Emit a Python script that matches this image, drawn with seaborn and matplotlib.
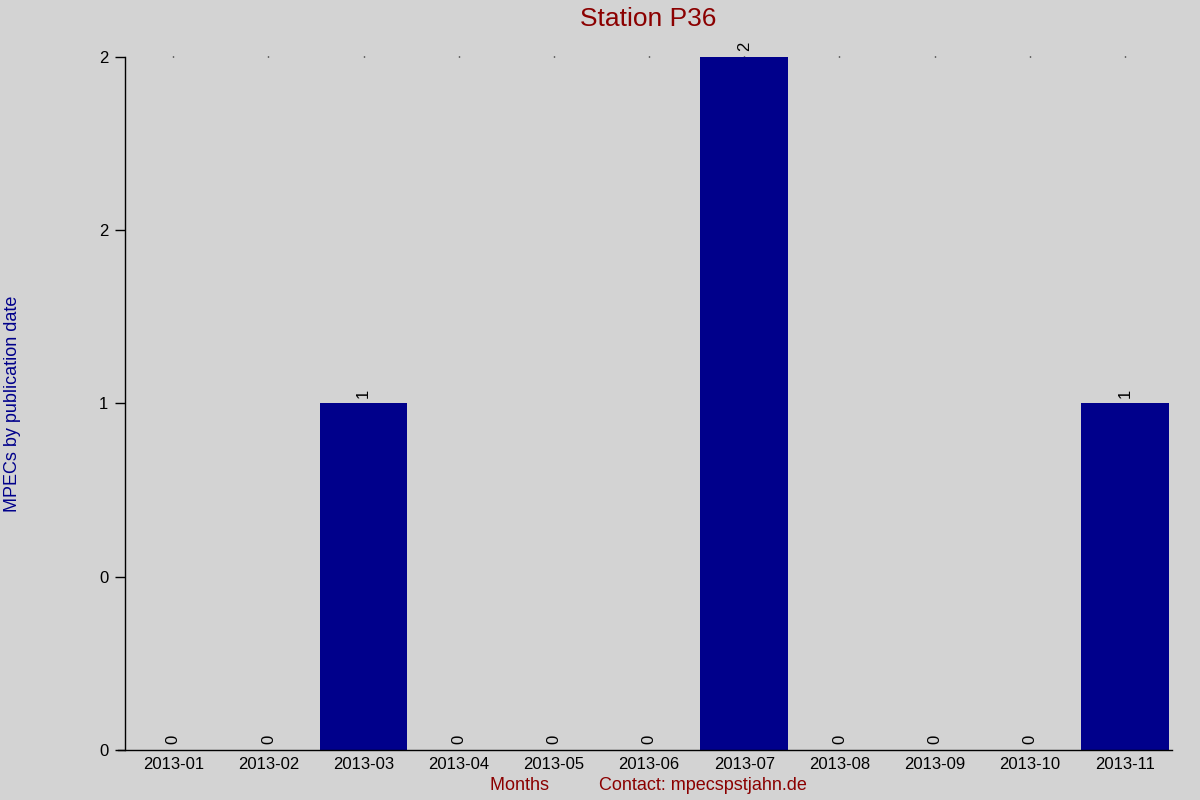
import matplotlib
matplotlib.use("Agg")
import matplotlib.pyplot as plt
import seaborn as sns
from matplotlib.ticker import FormatStrFormatter, MultipleLocator

# Data
months = ["2013-01", "2013-02", "2013-03", "2013-04", "2013-05", "2013-06",
          "2013-07", "2013-08", "2013-09", "2013-10", "2013-11"]
counts = [0, 0, 1, 0, 0, 0, 2, 0, 0, 0, 1]

bg = "#d3d3d3"
bar_color = "#00008b"
red = "#8b0000"

sns.set_style("ticks")
plt.rcParams["font.family"] = ["Liberation Sans", "DejaVu Sans"]

fig = plt.figure(figsize=(12, 8), dpi=100, facecolor=bg)
ax = fig.add_axes([0.104, 0.0625, 0.873, 0.8665])
ax.set_facecolor(bg)

sns.barplot(x=months, y=counts, color=bar_color, saturation=1, width=0.92,
            linewidth=0, ax=ax)

# Value labels above bars
for c in ax.containers:
    ax.bar_label(c, labels=[str(v) for v in counts], rotation=90,
                 padding=4, fontsize=12, color="black")

ax.set_xlim(-0.51, 10.5)
ax.set_ylim(0, 2)
ax.yaxis.set_major_locator(MultipleLocator(0.5))
ax.yaxis.set_major_formatter(FormatStrFormatter("%.0f"))

for side in ["top", "right"]:
    ax.spines[side].set_visible(False)
for side in ["left", "bottom"]:
    ax.spines[side].set_linewidth(1)
    ax.spines[side].set_color("black")
ax.spines["bottom"].set_bounds(-0.58, 10.5)

ax.tick_params(axis="y", length=7, width=1, labelsize=12, pad=5,
               colors="black")
ax.xaxis.set_tick_params(top=True, bottom=False, length=1, width=1,
                         labelsize=12, pad=4, colors="black")

ax.set_title("Station P36", color=red, fontsize=19, pad=22)
ax.set_xlabel("Months          Contact: mpecspstjahn.de", color=red,
              fontsize=13, labelpad=4)
ax.set_ylabel("MPECs by publication date", color=bar_color, fontsize=13,
              labelpad=56)

fig.savefig("out.png", dpi=100, facecolor=bg)
